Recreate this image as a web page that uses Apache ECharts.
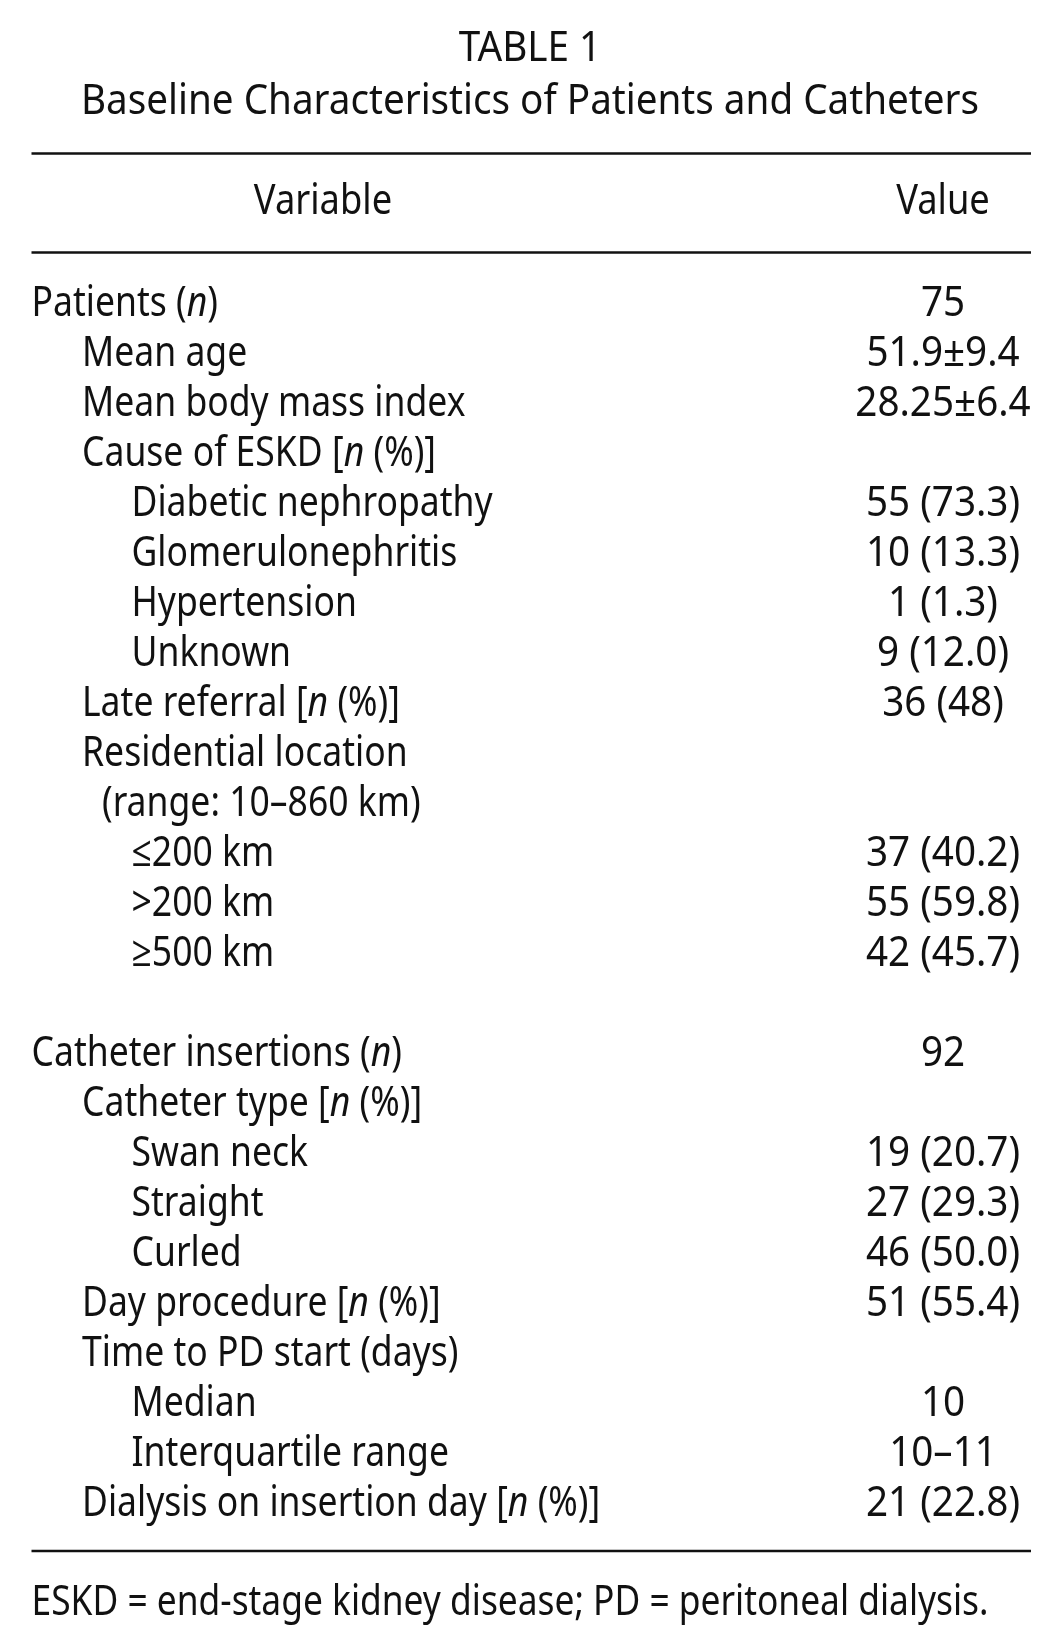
<!DOCTYPE html>
<html>
<head>
<meta charset="utf-8">
<script src="https://cdn.jsdelivr.net/npm/echarts@6/dist/echarts.min.js"></script>
<style>
  html, body { margin: 0; padding: 0; background: #fff; }
  #chart { width: 1056px; height: 1650px; }
</style>
</head>
<body>
<div id="chart"></div>
<script>
// ---------- data ----------
const tableTitle = 'TABLE 1';
const tableSubtitle = 'Baseline Characteristics of Patients and Catheters';
const headers = ['Variable', 'Value'];
const variables = [
  'Patients (n)', 'Mean age', 'Mean body mass index', 'Cause of ESKD [n (%)]',
  'Diabetic nephropathy', 'Glomerulonephritis', 'Hypertension', 'Unknown',
  'Late referral [n (%)]', 'Residential location', '(range: 10–860 km)',
  '≤200 km', '>200 km', '≥500 km', '',
  'Catheter insertions (n)', 'Catheter type [n (%)]', 'Swan neck', 'Straight', 'Curled',
  'Day procedure [n (%)]', 'Time to PD start (days)', 'Median', 'Interquartile range',
  'Dialysis on insertion day [n (%)]'
];
const indentLevels = [0, 1, 1, 1, 2, 2, 2, 2, 1, 1, 1.5, 2, 2, 2, 0, 0, 1, 2, 2, 2, 1, 1, 2, 2, 1];
const values = [
  '75', '51.9±9.4', '28.25±6.4', '', '55 (73.3)', '10 (13.3)', '1 (1.3)', '9 (12.0)',
  '36 (48)', '', '', '37 (40.2)', '55 (59.8)', '42 (45.7)', '',
  '92', '', '19 (20.7)', '27 (29.3)', '46 (50.0)', '51 (55.4)', '', '10', '10–11', '21 (22.8)'
];
const footnote = 'ESKD = end-stage kidney disease; PD = peritoneal dialysis.';

// ---------- layout ----------
const FONT = '"Noto Sans", "Open Sans", sans-serif';
const FS = 42;
const LEVEL_X = { 0: 31.5, 1: 82, 1.5: 102, 2: 131.5 };
const VALUE_X = 943;
const ROW_H = 50;
const FIRST_ROW_Y = 302;
const YSHIFT = 2;

const ctx = document.createElement('canvas').getContext('2d');
ctx.font = FS + 'px ' + FONT;
const SX = 898 / ctx.measureText(tableSubtitle).width;   // title / values
const SX_HEAD = SX * 0.94;                                // header row
const SX_LABEL = SX * 0.92;                               // variable column
const SX_FOOT = 957 / ctx.measureText(footnote).width;    // footnote

function richify(s) {
  return '{r|' + s.replace(/([\(\[])n([\) ])/g, '$1}{i|n}{r|$2') + '}';
}
const richStyles = {
  r: { fontFamily: FONT, fontSize: FS, fill: '#111', fontStyle: 'normal' },
  i: { fontFamily: FONT, fontSize: FS, fill: '#111', fontStyle: 'italic' }
};

const rowIdx = variables.map((_, i) => String(i));
const labelData = variables.map((v, i) => [LEVEL_X[indentLevels[i]], i, v]).filter(d => d[2] !== '');
const valueData = values.map((v, i) => [VALUE_X, i, v]).filter(d => d[2] !== '');

function makeRender(align, list, sx) {
  return function (params, api) {
    const p = api.coord([api.value(0), api.value(1)]);
    const txt = list[params.dataIndex][2];
    return {
      type: 'text',
      x: p[0], y: p[1] + YSHIFT,
      scaleX: sx,
      style: {
        text: richify(txt),
        rich: richStyles,
        font: FS + 'px ' + FONT,
        fill: '#111',
        align: align,
        verticalAlign: 'middle'
      }
    };
  };
}

function gText(text, x, y, align, sx) {
  return {
    type: 'text', x: x, y: y + YSHIFT, scaleX: sx,
    style: {
      text: text, fill: '#111', align: align, verticalAlign: 'middle',
      font: FS + 'px ' + FONT
    }
  };
}
function gRule(y) {
  return { type: 'line', shape: { x1: 31.5, y1: y, x2: 1031, y2: y }, style: { stroke: '#111', lineWidth: 2.5 } };
}

const nRows = variables.length;
const chart = echarts.init(document.getElementById('chart'), null, { renderer: 'canvas' });
chart.setOption({
  backgroundColor: '#fff',
  animation: false,
  grid: { left: 0, right: 0, top: FIRST_ROW_Y - ROW_H / 2, height: nRows * ROW_H },
  xAxis: { type: 'value', min: 0, max: 1056, show: false },
  yAxis: { type: 'category', data: rowIdx, inverse: true, show: false },
  series: [
    { type: 'custom', data: labelData, renderItem: makeRender('left', labelData, SX_LABEL), silent: true },
    { type: 'custom', data: valueData, renderItem: makeRender('center', valueData, SX), silent: true }
  ],
  graphic: [
    gText(tableTitle, 530, 47, 'center', SX),
    gText(tableSubtitle, 530, 100, 'center', SX),
    gRule(153.5),
    gText(headers[0], 323, 200, 'center', SX_HEAD),
    gText(headers[1], 943, 200, 'center', SX_HEAD),
    gRule(252.5),
    gRule(1551),
    gText(footnote, 31.5, 1601, 'left', SX_FOOT)
  ]
});
</script>
</body>
</html>
